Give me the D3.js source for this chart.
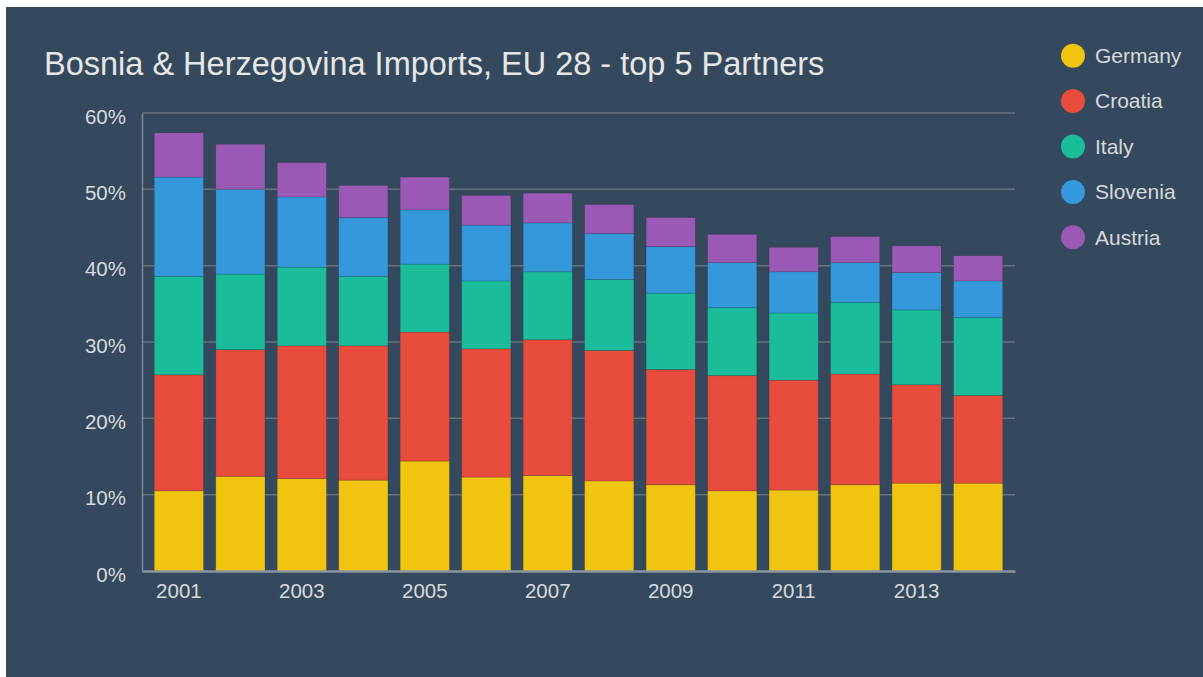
<!DOCTYPE html>
<html>
<head>
<meta charset="utf-8">
<script src="https://cdn.jsdelivr.net/npm/d3@7"></script>
<style>
  body { margin: 0; background: #ffffff; }
  #chart { position: absolute; left: 6px; top: 7px; }
  text { font-family: "Liberation Sans", Arial, sans-serif; }
</style>
</head>
<body>
<div id="chart"></div>
<script>
// Data (share of imports, %)
const years = ["2001","2002","2003","2004","2005","2006","2007","2008","2009","2010","2011","2012","2013","2014"];
const partners = ["Germany", "Croatia", "Italy", "Slovenia", "Austria"];
const germany  = [10.5, 12.4, 12.1, 11.9, 14.4, 12.3, 12.5, 11.8, 11.3, 10.5, 10.6, 11.3, 11.5, 11.5];
const croatia  = [15.2, 16.6, 17.4, 17.6, 16.9, 16.8, 17.8, 17.1, 15.1, 15.1, 14.4, 14.5, 12.9, 11.5];
const italy    = [12.9,  9.9, 10.3,  9.1,  8.9,  8.9,  8.9,  9.3, 10.0,  8.9,  8.8,  9.4,  9.8, 10.2];
const slovenia = [13.0, 11.1,  9.2,  7.7,  7.1,  7.3,  6.4,  6.0,  6.1,  5.9,  5.4,  5.2,  4.9,  4.8];
const austria  = [ 5.8,  5.9,  4.5,  4.2,  4.3,  3.9,  3.9,  3.8,  3.8,  3.7,  3.2,  3.4,  3.5,  3.3];
const yTicks = [0, 10, 20, 30, 40, 50, 60];
const colors = ["#f1c40f", "#e74c3c", "#1abc9c", "#3498db", "#9b59b6"];

const W = 1197, H = 670;
const margin = { top: 106, right: 188, bottom: 106, left: 136 };
const width = W - margin.left - margin.right;
const height = H - margin.top - margin.bottom;

const rows = years.map(function(y, i) {
  return { year: y, Germany: germany[i], Croatia: croatia[i], Italy: italy[i], Slovenia: slovenia[i], Austria: austria[i] };
});
const series = d3.stack().keys(partners)(rows);

const svg = d3.select("#chart").append("svg")
  .attr("width", W)
  .attr("height", H);

svg.append("rect").attr("width", W).attr("height", H).attr("fill", "#34495e");

// Title
svg.append("text")
  .attr("x", 38)
  .attr("y", 67.5)
  .attr("font-size", "32.5px")
  .attr("fill", "#e6e6e6")
  .text("Bosnia & Herzegovina Imports, EU 28 - top 5 Partners");

const g = svg.append("g")
  .attr("transform", "translate(" + margin.left + "," + margin.top + ")");

const x = d3.scaleBand().domain(years).range([0, width]).padding(0.2);
const y = d3.scaleLinear().domain([0, 60]).range([height, 0]);

// Gridlines
g.append("g")
  .selectAll("line")
  .data(yTicks.filter(function(d) { return d > 0; }))
  .enter().append("line")
   .attr("x1", 0)
   .attr("x2", width)
   .attr("y1", function(d) { return y(d); })
   .attr("y2", function(d) { return y(d); })
   .attr("stroke", "#66737f")
   .attr("stroke-width", 1.5);

// Bars
g.append("g")
  .selectAll("g")
  .data(series)
  .enter().append("g")
   .attr("fill", function(d, i) { return colors[i]; })
  .selectAll("rect")
  .data(function(d) { return d; })
  .enter().append("rect")
   .attr("x", function(d) { return x(d.data.year); })
   .attr("y", function(d) { return y(d[1]); })
   .attr("width", x.bandwidth())
   .attr("height", function(d) { return y(d[0]) - y(d[1]); })
   .attr("stroke", "rgba(0,0,0,0.12)")
   .attr("stroke-width", 1);

// Axes
const yAxis = d3.axisLeft(y).tickValues(yTicks).tickSize(0).tickPadding(16)
  .tickFormat(function(d) { return d + "%"; });
const yG = g.append("g").call(yAxis);
yG.select(".domain").attr("stroke", "#7b8793").attr("stroke-width", 1.5);
yG.selectAll("text").attr("fill", "#d6d9dc").attr("font-size", "20.5px")
  .attr("font-family", "Liberation Sans, Arial, sans-serif").attr("dy", "0.5em");

const xAxis = d3.axisBottom(x).tickSize(0).tickPadding(12)
  .tickFormat(function(d, i) { return i % 2 === 0 ? d : ""; });
const xG = g.append("g").attr("transform", "translate(0," + height + ")").call(xAxis);
xG.select(".domain").attr("stroke", "#8a949e").attr("stroke-width", 2.5);
xG.selectAll("text").attr("fill", "#d6d9dc").attr("font-size", "20.5px")
  .attr("font-family", "Liberation Sans, Arial, sans-serif");

// Legend
const legend = svg.append("g")
  .selectAll("g")
  .data(partners)
  .enter().append("g")
   .attr("transform", function(d, i) { return "translate(1067," + (48.7 + i * 45.4) + ")"; });
legend.append("circle")
  .attr("r", 12)
  .attr("fill", function(d, i) { return colors[i]; });
legend.append("text")
  .attr("x", 22)
  .attr("dy", "0.35em")
  .attr("font-size", "21px")
  .attr("fill", "#d6d9dc")
  .text(function(d) { return d; });
</script>
</body>
</html>
